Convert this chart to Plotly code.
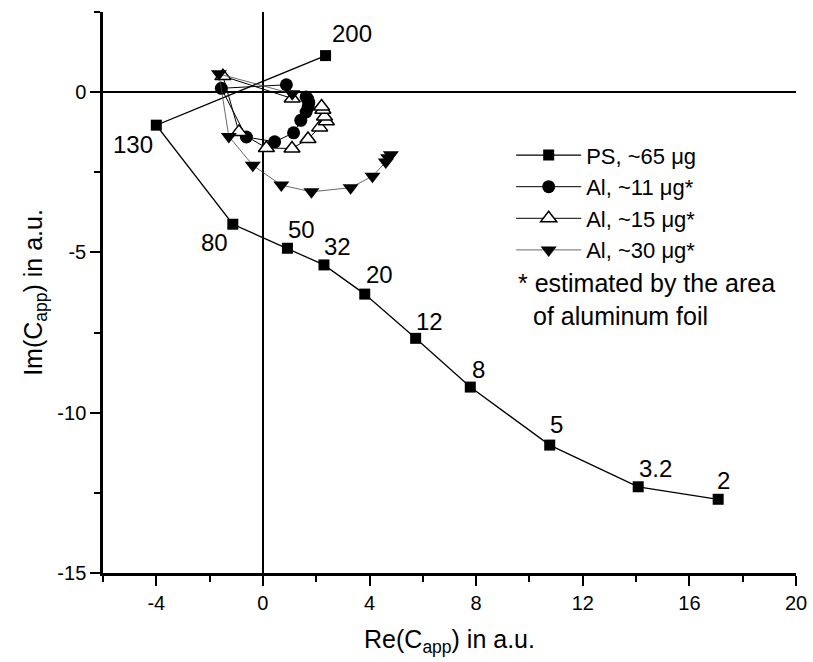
import plotly.graph_objects as go

# ---- data ----
freq_labels = ["200", "130", "80", "50", "32", "20", "12", "8", "5", "3.2", "2"]

ps_re = [2.35, -4.0, -1.13, 0.92, 2.29, 3.82, 5.73, 7.78, 10.76, 14.08, 17.08]
ps_im = [1.14, -1.03, -4.12, -4.87, -5.39, -6.30, -7.68, -9.20, -11.01, -12.31, -12.70]

al11_re = [0.88, -1.56, -0.62, 0.44, 1.15, 1.42, 1.62, 1.70, 1.72, 1.68, 1.62]
al11_im = [0.23, 0.12, -1.40, -1.55, -1.27, -0.88, -0.62, -0.45, -0.32, -0.22, -0.15]

al15_re = [1.10, -1.50, -0.90, 0.13, 1.09, 1.69, 2.13, 2.38, 2.31, 2.25, 2.20]
al15_im = [-0.20, 0.50, -1.24, -1.74, -1.76, -1.46, -1.10, -0.91, -0.76, -0.55, -0.45]

al30_re = [1.10, -1.65, -1.28, -0.38, 0.69, 1.82, 3.29, 4.11, 4.61, 4.70, 4.80]
al30_im = [-0.05, 0.57, -1.38, -2.28, -2.90, -3.11, -2.98, -2.62, -2.18, -2.05, -1.95]

# label pixel offsets (dx right, dy up) for PS frequency labels
label_dx = [26, -23, -18, 14, 14, 15, 14, 8, 7, 17, 5]
label_dy = [22, -19, -18, 19, 18, 20, 17, 18, 21, 18, 19]

x_tickvals = [-4, 0, 4, 8, 12, 16, 20]
x_ticktext = ["-4", "0", "4", "8", "12", "16", "20"]
y_tickvals = [-15, -10, -5, 0]
y_ticktext = ["-15", "-10", "-5", "0"]

series_names = ["PS, ~65 μg", "Al, ~11 μg*", "Al, ~15 μg*", "Al, ~30 μg*"]
note_lines = ["* estimated by the area", "of aluminum foil"]

FONT = "Liberation Sans, Arial, sans-serif"

fig = go.Figure()
fig.add_trace(go.Scatter(
    x=ps_re, y=ps_im, mode="lines+markers", name=series_names[0],
    line=dict(color="black", width=1.3),
    marker=dict(symbol="square", size=11, color="black"),
))
fig.add_trace(go.Scatter(
    x=al11_re, y=al11_im, mode="lines+markers", name=series_names[1],
    line=dict(color="black", width=1),
    marker=dict(symbol="circle", size=13, color="black"),
))
fig.add_trace(go.Scatter(
    x=al15_re, y=al15_im, mode="lines+markers", name=series_names[2],
    line=dict(color="black", width=1),
    marker=dict(symbol="triangle-up", size=14, color="white",
                line=dict(color="black", width=1.5)),
))
fig.add_trace(go.Scatter(
    x=al30_re, y=al30_im, mode="lines+markers", name=series_names[3],
    line=dict(color="#444444", width=0.8),
    marker=dict(symbol="triangle-down", size=14, color="black"),
))

for xv, yv, t, dx, dy in zip(ps_re, ps_im, freq_labels, label_dx, label_dy):
    fig.add_annotation(x=xv, y=yv, text=t, showarrow=False,
                       xshift=dx, yshift=dy,
                       font=dict(family=FONT, size=24, color="black"))

fig.add_annotation(xref="paper", yref="paper", x=0.596, y=0.517,
                   text=note_lines[0], showarrow=False, xanchor="left", yanchor="middle",
                   font=dict(family=FONT, size=25, color="black"))
fig.add_annotation(xref="paper", yref="paper", x=0.618, y=0.458,
                   text=note_lines[1], showarrow=False, xanchor="left", yanchor="middle",
                   font=dict(family=FONT, size=25, color="black"))

axis_common = dict(
    showline=True, linecolor="black", linewidth=2.5,
    ticks="outside", ticklen=10, tickwidth=2, tickcolor="black",
    showgrid=False, zeroline=True, zerolinecolor="black", zerolinewidth=2,
    tickfont=dict(family=FONT, size=20, color="black"),
    mirror=False,
)

fig.update_xaxes(
    range=[-6, 20], tickmode="array", tickvals=x_tickvals, ticktext=x_ticktext,
    minor=dict(ticks="outside", ticklen=6, tickwidth=2, tickcolor="black",
               tickmode="linear", dtick=2, tick0=0),
    title=dict(text="Re(C<sub>app</sub>) in a.u.", font=dict(family=FONT, size=25, color="black"),
               standoff=18),
    **axis_common,
)
fig.update_yaxes(
    range=[-15, 2.5], tickmode="array", tickvals=y_tickvals, ticktext=y_ticktext,
    minor=dict(ticks="outside", ticklen=6, tickwidth=2, tickcolor="black",
               tickmode="linear", dtick=2.5, tick0=0),
    title=dict(text="Im(C<sub>app</sub>) in a.u.", font=dict(family=FONT, size=25, color="black"),
               standoff=8),
    **axis_common,
)

fig.update_layout(
    width=813, height=662,
    margin=dict(l=103, r=17, t=12, b=89, autoexpand=False),
    paper_bgcolor="white", plot_bgcolor="white",
    font=dict(family=FONT, color="black"),
    legend=dict(x=0.589, y=0.782, xanchor="left", yanchor="top",
                font=dict(family=FONT, size=22, color="black"),
                bgcolor="rgba(0,0,0,0)", itemwidth=65, tracegroupgap=0),
    showlegend=True,
)

fig.write_html("out.html", config={"displayModeBar": False},
               post_script="document.body.style.margin='0px';")
